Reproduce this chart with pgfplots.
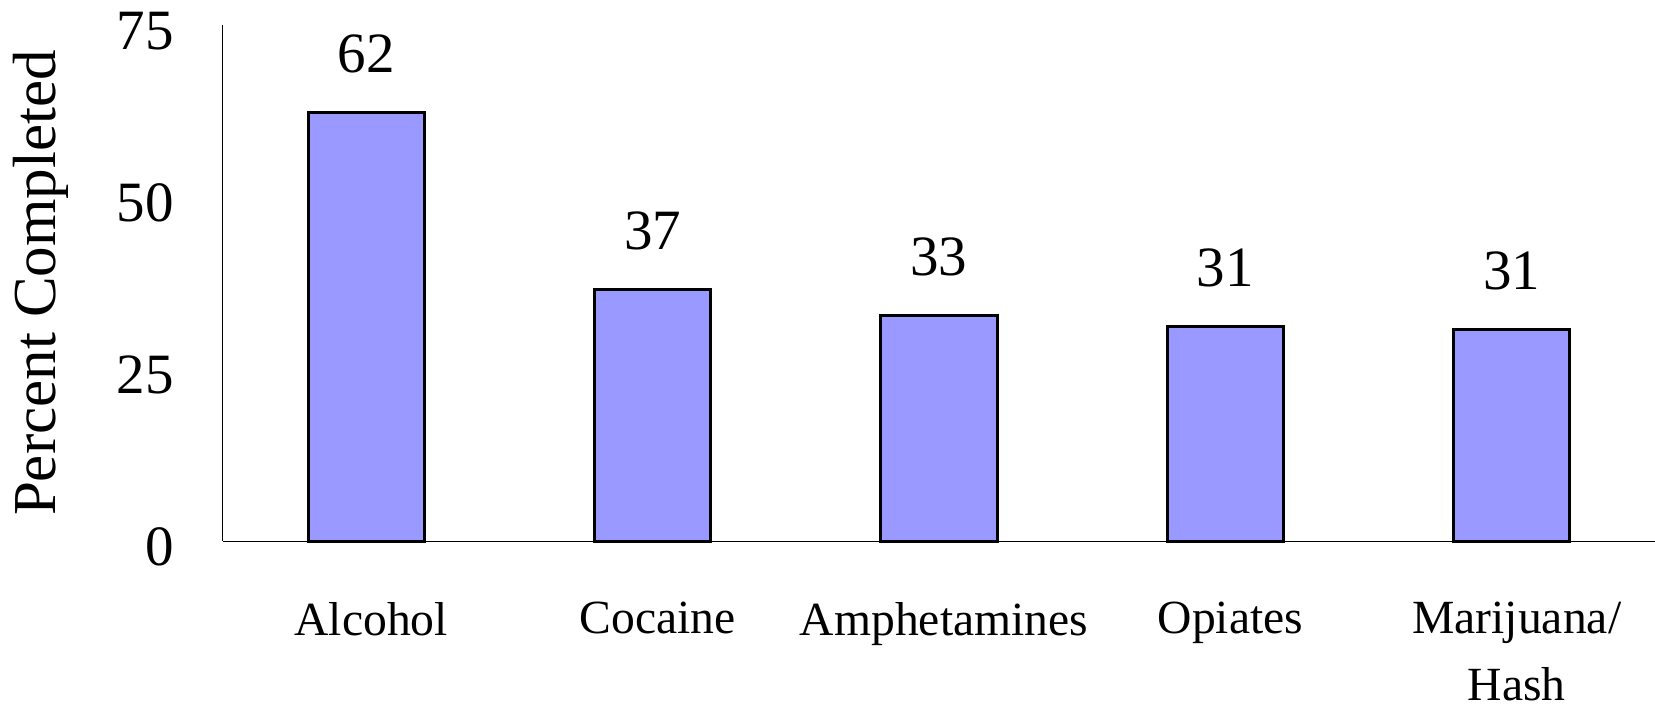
\documentclass[border=0pt]{standalone}
\usepackage{fontspec}
\setmainfont{Liberation Serif}
\usepackage{pgfplots}
\pgfplotsset{compat=1.18}
\definecolor{barblue}{RGB}{153,153,255}
\begin{document}
\begin{tikzpicture}
\useasboundingbox (-111.5pt,-83.5pt) rectangle (716pt,270.5pt);
\begin{axis}[
  at={(0pt,0pt)}, anchor=south west,
  scale only axis, width=716pt, height=258pt,
  xmin=-0.5, xmax=4.5, ymin=0, ymax=75,
  clip=false,
  axis x line=bottom, axis y line=left,
  axis line style={-, line width=0.5pt, black},
  major tick length=0pt,
  ytick={0,25,50,75},
  xtick={0,1,2,3,4},
  xticklabels={Alcohol, Cocaine, Amphetamines, Opiates, {Marijuana/\\Hash}},
  xticklabel style={anchor=north, inner sep=0pt, xshift=2.5pt, yshift=-30.5pt, align=center, font=\fontsize{23.8}{33.5}\selectfont},
  yticklabel style={anchor=east, inner sep=0pt, xshift=-24.5pt, yshift=-3pt, font=\fontsize{28.5}{34}\selectfont},
  /pgf/number format/assume math mode=true,
  ylabel={Percent Completed},
  ylabel style={at={(axis description cs:-0.1173,0.5)}, anchor=base, inner sep=0pt, font=\fontsize{30.5}{36}\selectfont},
]
\addplot[ybar, bar width=58pt, fill=barblue, draw=black, line width=1.5pt,
  nodes near coords={\pgfmathprintnumber[fixed,precision=0]{\pgfplotspointmeta}},
  every node near coord/.append style={font=\fontsize{28.5}{34}\selectfont, inner sep=0pt, anchor=south, yshift=19pt, text=black}]
  coordinates {(0,62.25) (1,36.6) (2,32.8) (3,31.2) (4,30.8)};
\end{axis}
\end{tikzpicture}
\end{document}
